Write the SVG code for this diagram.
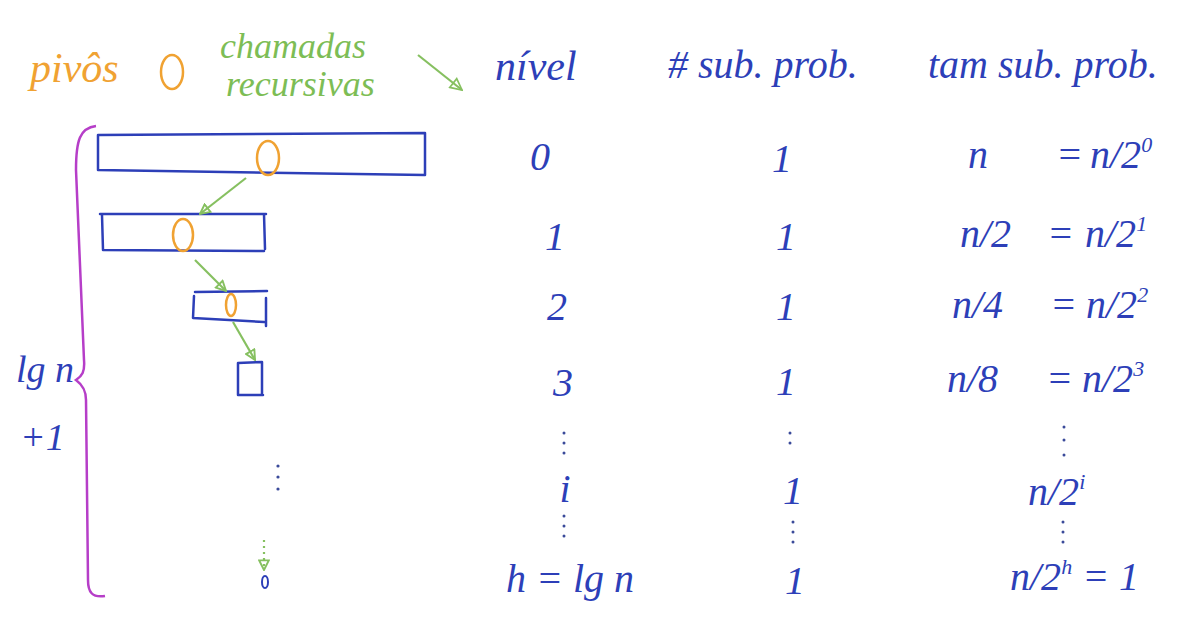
<svg xmlns="http://www.w3.org/2000/svg" width="1203" height="617" viewBox="0 0 1203 617">
<style>
.b{fill:#2d3fb8;font-family:"Liberation Serif",serif;font-style:italic}
.o{fill:#f0a232;font-family:"Liberation Serif",serif;font-style:italic}
.g{fill:#7dbd55;font-family:"Liberation Serif",serif;font-style:italic}
.box{fill:none;stroke:#2d3fb8;stroke-width:2.5;stroke-linecap:round;stroke-linejoin:round}
.piv{fill:none;stroke:#f0a232;stroke-width:2.5}
.arr{fill:none;stroke:#86c060;stroke-width:2.2}
.dot{fill:#3a4a9a}
</style>
<defs>
<marker id="ah" viewBox="0 0 10 10" refX="9" refY="5" markerWidth="12" markerHeight="12" orient="auto" markerUnits="userSpaceOnUse">
<path d="M1,1 L9,5 L1,9 Z" fill="none" stroke="#86c060" stroke-width="1.6"/>
</marker>
<marker id="ah2" viewBox="0 0 10 10" refX="9" refY="5" markerWidth="14" markerHeight="14" orient="auto" markerUnits="userSpaceOnUse">
<path d="M1,1 L9,5 L1,9 Z" fill="none" stroke="#86c060" stroke-width="1.2"/>
</marker>
</defs>
<rect width="1203" height="617" fill="#fff"/>

<!-- legend -->
<g id="legend">
<text class="o" x="30" y="82" font-size="42">pivôs</text>
<ellipse class="piv" cx="172" cy="72" rx="11" ry="17"/>
<text class="g" x="220" y="58" font-size="36">chamadas</text>
<text class="g" x="226" y="96" font-size="36">recursivas</text>
</g>

<!-- headers -->
<g id="headers">
<text class="b" x="495" y="80" font-size="42">nível</text>
<text class="b" x="668" y="78" font-size="40"># sub. prob.</text>
<text class="b" x="928" y="78" font-size="40">tam sub. prob.</text>
</g>

<!-- brace -->
<g id="brace">
<path d="M96,126 C80,128 76,140 76,170 L84,360 C85,372 82,376 76,380 C84,386 86,392 86,400 L88,580 C88,592 92,598 105,596" fill="none" stroke="#b63ec8" stroke-width="2.5"/>
<text class="b" x="16" y="382" font-size="38">lg n</text>
<text class="b" x="20" y="450" font-size="38">+1</text>
</g>

<!-- arrays -->
<g id="array0">
<path class="box" d="M98,135 L425,133 M98,135 L98,170 L425,175 M425,133 L425,175"/>
<ellipse class="piv" cx="268" cy="158" rx="11" ry="17"/>
</g>
<g id="array1">
<path class="box" d="M100,214 L266,214 M102,215 L103,250 L264,251 M264,214 L265,249"/>
<ellipse class="piv" cx="183" cy="235" rx="10" ry="16"/>
</g>
<g id="array2">
<path class="box" d="M195,292 L267,291 M194,296 L193,318 L264,322 M266,298 L266,326"/>
<ellipse class="piv" cx="231" cy="305" rx="5" ry="11"/>
</g>
<g id="array3">
<path class="box" d="M238,363 L262,362 M238,363 L238,395 L263,395 M262,362 L262,395"/>
</g>
<g id="array4">
<ellipse cx="265" cy="582" rx="3" ry="6" fill="none" stroke="#2d3fb8" stroke-width="2"/>
</g>

<!-- connectors -->
<g id="connectors">
<path class="arr" d="M418,55 L462,90" marker-end="url(#ah2)"/>
<path class="arr" d="M246,178 L200,214" marker-end="url(#ah)"/>
<path class="arr" d="M195,260 L226,291" marker-end="url(#ah)"/>
<path class="arr" d="M233,322 L255,360" marker-end="url(#ah)"/>
<path class="arr" d="M264,540 L264,570" stroke-dasharray="2 4" marker-end="url(#ah)"/>
</g>

<!-- levels -->
<g id="col-nivel">
<text class="b" x="540" y="170" font-size="40" text-anchor="middle">0</text>
<text class="b" x="555" y="250" font-size="40" text-anchor="middle">1</text>
<text class="b" x="557" y="320" font-size="40" text-anchor="middle">2</text>
<text class="b" x="563" y="396" font-size="40" text-anchor="middle">3</text>
<text class="b" x="565" y="502" font-size="40" text-anchor="middle">i</text>
<text class="b" x="570" y="592" font-size="40" text-anchor="middle">h = lg n</text>
<circle class="dot" cx="564" cy="433" r="1.5"/><circle class="dot" cx="564" cy="443" r="1.5"/><circle class="dot" cx="564" cy="453" r="1.5"/>
<circle class="dot" cx="564" cy="516" r="1.5"/><circle class="dot" cx="564" cy="526" r="1.5"/><circle class="dot" cx="564" cy="536" r="1.5"/>
</g>
<g id="col-num">
<text class="b" x="782" y="172" font-size="40" text-anchor="middle">1</text>
<text class="b" x="786" y="250" font-size="40" text-anchor="middle">1</text>
<text class="b" x="786" y="320" font-size="40" text-anchor="middle">1</text>
<text class="b" x="786" y="395" font-size="40" text-anchor="middle">1</text>
<text class="b" x="793" y="504" font-size="40" text-anchor="middle">1</text>
<text class="b" x="795" y="594" font-size="40" text-anchor="middle">1</text>
<circle class="dot" cx="790" cy="433" r="1.5"/><circle class="dot" cx="790" cy="443" r="1.5"/>
<circle class="dot" cx="793" cy="522" r="1.5"/><circle class="dot" cx="793" cy="532" r="1.5"/><circle class="dot" cx="793" cy="542" r="1.5"/>
</g>
<g id="col-tam">
<text class="b" x="968" y="168" font-size="40">n</text>
<text class="b" x="1056" y="168" font-size="40">=</text>
<text class="b" x="1090" y="168" font-size="40">n/2<tspan font-size="22" dy="-16">0</tspan></text>
<text class="b" x="960" y="247" font-size="40">n/2</text>
<text class="b" x="1047" y="247" font-size="40">=</text>
<text class="b" x="1085" y="247" font-size="40">n/2<tspan font-size="22" dy="-16">1</tspan></text>
<text class="b" x="952" y="318" font-size="40">n/4</text>
<text class="b" x="1050" y="318" font-size="40">=</text>
<text class="b" x="1086" y="318" font-size="40">n/2<tspan font-size="22" dy="-16">2</tspan></text>
<text class="b" x="947" y="392" font-size="40">n/8</text>
<text class="b" x="1046" y="392" font-size="40">=</text>
<text class="b" x="1082" y="392" font-size="40">n/2<tspan font-size="22" dy="-16">3</tspan></text>
<circle class="dot" cx="1064" cy="427" r="1.5"/><circle class="dot" cx="1064" cy="440" r="1.5"/><circle class="dot" cx="1064" cy="455" r="1.5"/>
<text class="b" x="1028" y="505" font-size="40">n/2<tspan font-size="22" dy="-16">i</tspan></text>
<circle class="dot" cx="1063" cy="522" r="1.5"/><circle class="dot" cx="1063" cy="532" r="1.5"/><circle class="dot" cx="1063" cy="542" r="1.5"/>
<text class="b" x="1010" y="590" font-size="40">n/2<tspan font-size="22" dy="-16">h</tspan><tspan dy="16"> = 1</tspan></text>
</g>
<g id="dots-arrays">
<circle class="dot" cx="278" cy="466" r="1.6"/><circle class="dot" cx="278" cy="477" r="1.6"/><circle class="dot" cx="278" cy="489" r="1.6"/>
</g>
</svg>
